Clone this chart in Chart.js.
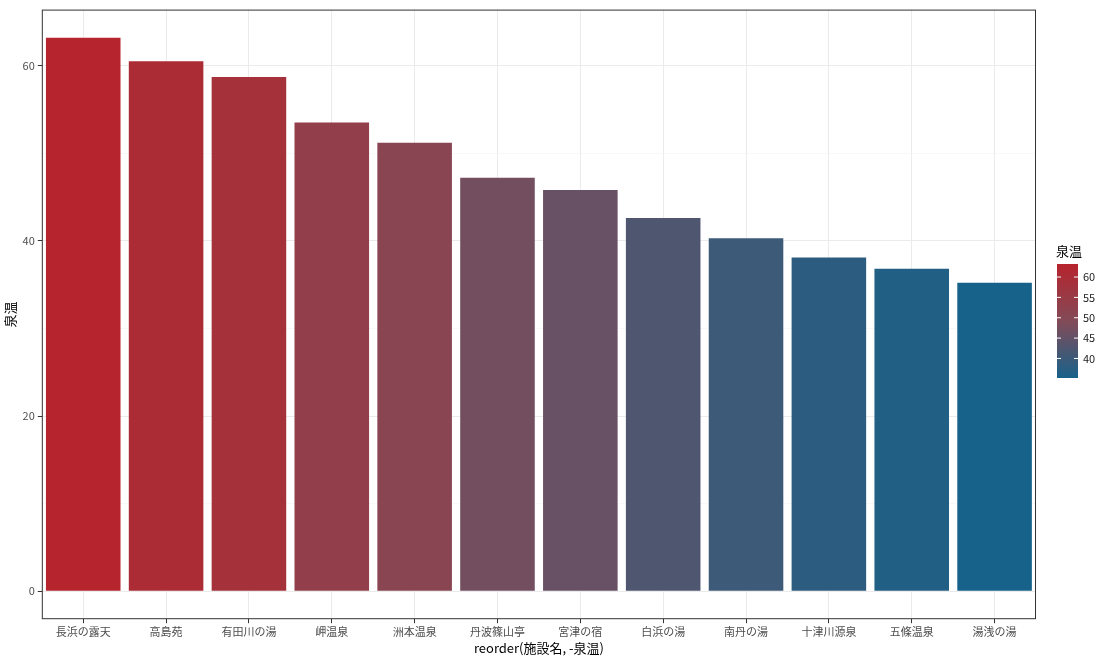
<!DOCTYPE html>
<html lang="ja">
<head>
<meta charset="UTF-8">
<title>泉温</title>
<script src="https://cdn.jsdelivr.net/npm/chart.js"></script>
<style>
  body { margin: 0; background: #fff; }
  #wrap { width: 1116px; height: 658px; }
</style>
</head>
<body>
<div id="wrap"><canvas id="c"></canvas></div>
<script>
const facilities = ['長浜の露天', '高島苑', '有田川の湯', '岬温泉', '洲本温泉', '丹波篠山亭', '宮津の宿', '白浜の湯', '南丹の湯', '十津川源泉', '五條温泉', '湯浅の湯'];
const temps = [63.2, 60.5, 58.7, 53.5, 51.2, 47.2, 45.8, 42.6, 40.3, 38.1, 36.8, 35.2];
const yTicks = [0, 10, 20, 30, 40, 50, 60];
const legendTicks = [40, 45, 50, 55, 60];

const lo = Math.min(...temps), hi = Math.max(...temps);
const cHigh = [182, 36, 45], cMid = [130, 75, 88], cLow = [22, 98, 138];
function colourFor(v) {
    const t = (v - lo) / (hi - lo);
    let a, b, f;
    if (t < 0.5) { a = cLow; b = cMid; f = t / 0.5; } else { a = cMid; b = cHigh; f = (t - 0.5) / 0.5; }
    const c = a.map((x, i) => Math.round(x + (b[i] - x) * f));
    return `rgb(${c[0]},${c[1]},${c[2]})`;
}

const FONT = "'Noto Sans CJK JP', 'Noto Sans', sans-serif";

const legendPlugin = {
    id: 'colourbar',
    afterDraw(chart) {
        const ctx = chart.ctx;
        const x = 1057, top = 264, bottom = 378, w = 21;
        ctx.save();
        ctx.fillStyle = '#000';
        ctx.font = '13px ' + FONT;
        ctx.textBaseline = 'alphabetic';
        ctx.fillText('泉温', x - 1, 256);
        for (let y = top; y < bottom; y++) {
            const v = hi - (y - top) / (bottom - top) * (hi - lo);
            ctx.fillStyle = colourFor(v);
            ctx.fillRect(x, y, w, 1);
        }
        ctx.font = '11px ' + FONT;
        ctx.textBaseline = 'middle';
        legendTicks.forEach(v => {
            const y = top + (hi - v) / (hi - lo) * (bottom - top);
            ctx.strokeStyle = '#fff';
            ctx.lineWidth = 1;
            ctx.beginPath();
            ctx.moveTo(x, y); ctx.lineTo(x + 4, y);
            ctx.moveTo(x + w - 4, y); ctx.lineTo(x + w, y);
            ctx.stroke();
            ctx.fillStyle = '#1a1a1a';
            ctx.fillText(String(v), x + w + 5, y);
        });
        // panel border
        const a = chart.chartArea;
        ctx.strokeStyle = '#333';
        ctx.lineWidth = 1;
        ctx.strokeRect(a.left + 0.5, a.top + 0.5, a.right - a.left - 1, a.bottom - a.top - 1);
        ctx.restore();
    }
};

new Chart(document.getElementById('c'), {
    type: 'bar',
    data: {
        labels: facilities,
        datasets: [{
            data: temps,
            backgroundColor: temps.map(colourFor),
            barPercentage: 0.9,
            categoryPercentage: 1.0
        }]
    },
    options: {
        responsive: true,
        maintainAspectRatio: false,
        animation: false,
        layout: { padding: { left: 2, right: 80, top: 6, bottom: 2 } },
        plugins: { legend: { display: false }, tooltip: { enabled: false } },
        scales: {
            x: {
                grid: { color: '#ebebeb', drawTicks: true, tickLength: 4, tickColor: '#333', offset: false },
                border: { display: false },
                ticks: { color: '#4d4d4d', font: { size: 11, family: FONT }, padding: 2, maxRotation: 0 },
                title: { display: true, text: 'reorder(施設名, -泉温)', color: '#000', font: { size: 13, family: FONT }, padding: { top: 0, bottom: 0 } }
            },
            y: {
                min: -3.2,
                max: 66.4,
                afterBuildTicks(axis) { axis.ticks = yTicks.map(v => ({ value: v })); },
                grid: {
                    color: ctx => (ctx.tick && ctx.tick.value % 20 === 0) ? '#ebebeb' : '#f4f4f4',
                    lineWidth: ctx => (ctx.tick && ctx.tick.value % 20 === 0) ? 1 : 0.6,
                    tickLength: 4,
                    tickColor: ctx => (ctx.tick && ctx.tick.value % 20 === 0) ? '#333' : 'rgba(0,0,0,0)'
                },
                border: { display: false },
                ticks: {
                    color: '#4d4d4d',
                    font: { size: 11, family: FONT },
                    padding: 3,
                    callback: v => (v % 20 === 0 ? String(v) : '')
                },
                title: { display: true, text: '泉温', color: '#000', font: { size: 13, family: FONT }, padding: { top: 0, bottom: 2 } }
            }
        }
    },
    plugins: [legendPlugin]
});
</script>
</body>
</html>
